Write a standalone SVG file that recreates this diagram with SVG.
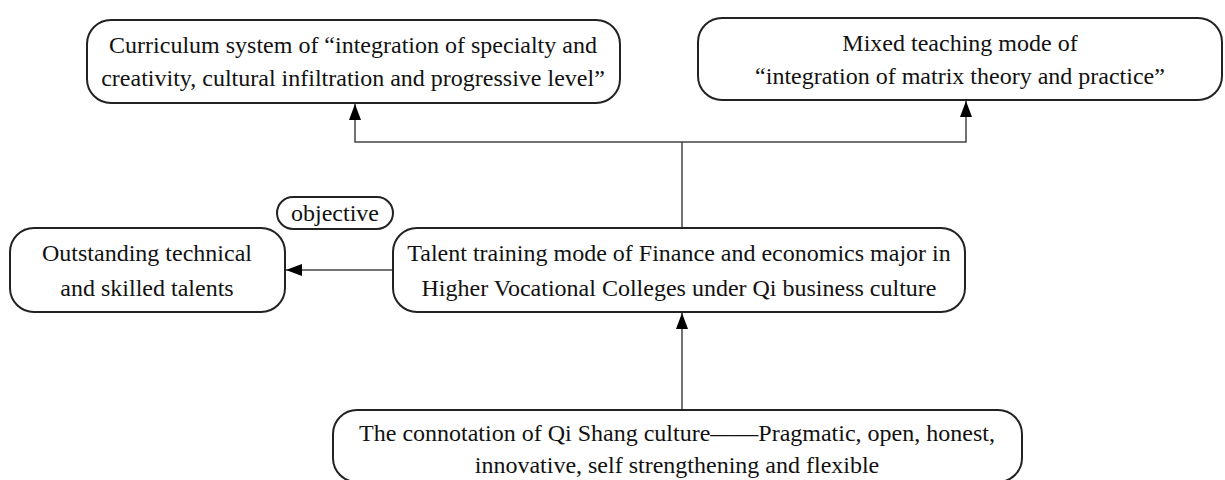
<svg xmlns="http://www.w3.org/2000/svg" width="1225" height="480" viewBox="0 0 1225 480">
<defs>
<style>
.box{fill:#fff;stroke:#222;stroke-width:2}
.t{font-family:"Liberation Serif","Times New Roman",serif;font-size:24px;fill:#111;text-anchor:middle}
.c{fill:none;stroke:#444;stroke-width:1.5}
</style>
<marker id="ah" markerWidth="16" markerHeight="12" refX="16" refY="6" orient="auto" markerUnits="userSpaceOnUse">
<path d="M0,0 L16,6 L0,12 Z" fill="#000"/>
</marker>
</defs>
<rect width="1225" height="480" fill="#fff"/>
<g id="connectors">
<path class="c" d="M682,228 V142"/>
<path class="c" d="M682,142 H355 V104" marker-end="url(#ah)"/>
<path class="c" d="M682,142 H966 V101" marker-end="url(#ah)"/>
<path class="c" d="M393,270 H286" marker-end="url(#ah)"/>
<path class="c" d="M682,410 V313" marker-end="url(#ah)"/>
</g>
<g id="curriculum">
<rect class="box" x="87" y="20" width="533" height="83" rx="24"/>
<text class="t" x="353" y="53">Curriculum system of “integration of specialty and</text>
<text class="t" x="353" y="86">creativity, cultural infiltration and progressive level”</text>
</g>
<g id="mixed">
<rect class="box" x="698" y="18" width="524" height="82" rx="24"/>
<text class="t" x="960" y="51">Mixed teaching mode of</text>
<text class="t" x="960" y="84">“integration of matrix theory and practice”</text>
</g>
<g id="objective">
<rect class="box" x="277" y="197" width="116" height="32" rx="16"/>
<text class="t" x="335" y="221">objective</text>
</g>
<g id="outstanding">
<rect class="box" x="10" y="228" width="275" height="84" rx="24"/>
<text class="t" x="147" y="261">Outstanding technical</text>
<text class="t" x="147" y="296">and skilled talents</text>
</g>
<g id="talent">
<rect class="box" x="393" y="228" width="572" height="84" rx="24"/>
<text class="t" x="679" y="261">Talent training mode of Finance and economics major in</text>
<text class="t" x="679" y="296">Higher Vocational Colleges under Qi business culture</text>
</g>
<g id="connotation">
<rect class="box" x="333" y="410" width="689" height="72" rx="24"/>
<text class="t" x="677" y="441">The connotation of Qi Shang culture——Pragmatic, open, honest,</text>
<text class="t" x="677" y="473">innovative, self strengthening and flexible</text>
</g>
</svg>
